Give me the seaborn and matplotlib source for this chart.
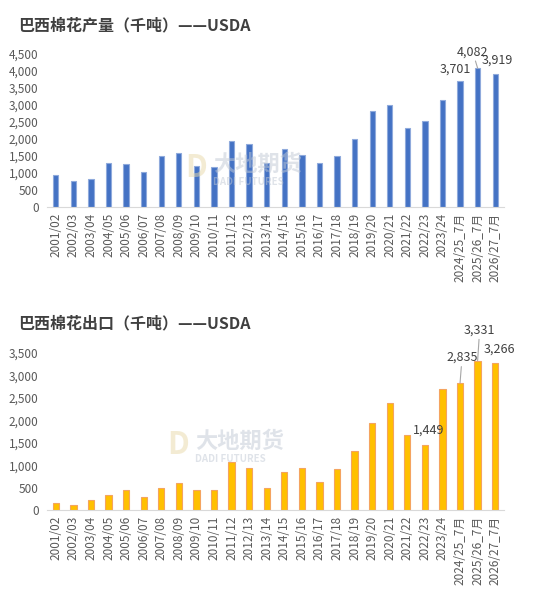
import pandas as pd
import seaborn as sns
import matplotlib.pyplot as plt

seasons = ["2001/02", "2002/03", "2003/04", "2004/05", "2005/06", "2006/07", "2007/08",
           "2008/09", "2009/10", "2010/11", "2011/12", "2012/13", "2013/14", "2014/15",
           "2015/16", "2016/17", "2017/18", "2018/19", "2019/20", "2020/21", "2021/22",
           "2022/23", "2023/24", "2024/25_7月", "2025/26_7月", "2026/27_7月"]
production = [930, 755, 835, 1295, 1275, 1020, 1510, 1580, 1215, 1170, 1930, 1865, 1300,
              1715, 1540, 1290, 1510, 2000, 2825, 2990, 2335, 2540, 3160, 3701, 4082, 3919]
exports = [148, 111, 215, 334, 437, 289, 482, 600, 437, 437, 1060, 941, 482, 852, 941,
           623, 912, 1312, 1950, 2394, 1683, 1449, 2698, 2835, 3331, 3266]

# label offsets in pixels (dx, dy, leader line)
prod_labels = {23: (-5, 6, False), 24: (-5, 10, True), 25: (2, 7, False)}
exp_labels = {21: (4, 8, False), 23: (2, 19, True), 24: (2, 24, True), 25: (4, 8, False)}

plt.rcParams["font.family"] = ["Noto Sans CJK SC", "DejaVu Sans"]
W, H = 550, 596
fig = plt.figure(figsize=(W / 100, H / 100), dpi=100)


def px_axes(left, top, right, bottom):
    return fig.add_axes([left / W, 1 - bottom / H, (right - left) / W, (bottom - top) / H])


def make_bar(ax, vals, ymax, step, color, edge, width, labels):
    df = pd.DataFrame({"season": seasons, "value": vals})
    sns.barplot(data=df, x="season", y="value", color=color, edgecolor=edge,
                linewidth=0.8, width=width, saturation=1, ax=ax)
    ax.set_ylim(0, ymax)
    ax.set_xlim(-0.5, len(seasons) - 0.5)
    ax.set_yticks(range(0, ymax + 1, step))
    ax.set_yticklabels([f"{v:,}" for v in range(0, ymax + 1, step)])
    ax.set_xlabel("")
    ax.set_ylabel("")
    ax.tick_params(axis="x", rotation=90, length=0, labelsize=8.5, colors="#595959", pad=4)
    ax.tick_params(axis="y", length=0, labelsize=8.5, colors="#595959", pad=6)
    for s in ["top", "right", "left"]:
        ax.spines[s].set_visible(False)
    ax.spines["bottom"].set_color("#d9d9d9")
    for i, (dx, dy, line) in labels.items():
        ax.annotate(f"{vals[i]:,}", xy=(i, vals[i]), xytext=(dx, dy),
                    textcoords="offset pixels", ha="center", va="bottom",
                    fontsize=9, color="#404040",
                    arrowprops=dict(arrowstyle="-", color="#a6a6a6", lw=0.8,
                                    shrinkA=0, shrinkB=0) if line else None)


ax1 = px_axes(47, 54, 504, 207)
make_bar(ax1, production, 4500, 500, "#4472C4", "#8faadc", 0.3, prod_labels)
ax2 = px_axes(47, 353, 504, 510)
make_bar(ax2, exports, 3500, 500, "#FFC000", "#F4A460", 0.36, exp_labels)

fig.text(18 / W, 1 - 25 / H, "巴西棉花产量（千吨）——USDA", fontsize=11.5,
         fontweight="bold", color="#404040", va="center")
fig.text(18 / W, 1 - 323 / H, "巴西棉花出口（千吨）——USDA", fontsize=11.5,
         fontweight="bold", color="#404040", va="center")

# watermark
for lx, ly in [(185, 168), (167, 445)]:
    fig.text(lx / W, 1 - ly / H, "D", fontsize=22, color="#e8d9a8", alpha=0.5,
             va="center", fontweight="bold")
    fig.text((lx + 28) / W, 1 - (ly - 4) / H, "大地期货", fontsize=16, color="#c0c8d4",
             alpha=0.5, va="center", fontweight="bold")
    fig.text((lx + 28) / W, 1 - (ly + 14) / H, "DADI FUTURES", fontsize=7, color="#c0c8d4",
             alpha=0.5, va="center", fontweight="bold")

fig.savefig("out.png", dpi=100, facecolor="white")
